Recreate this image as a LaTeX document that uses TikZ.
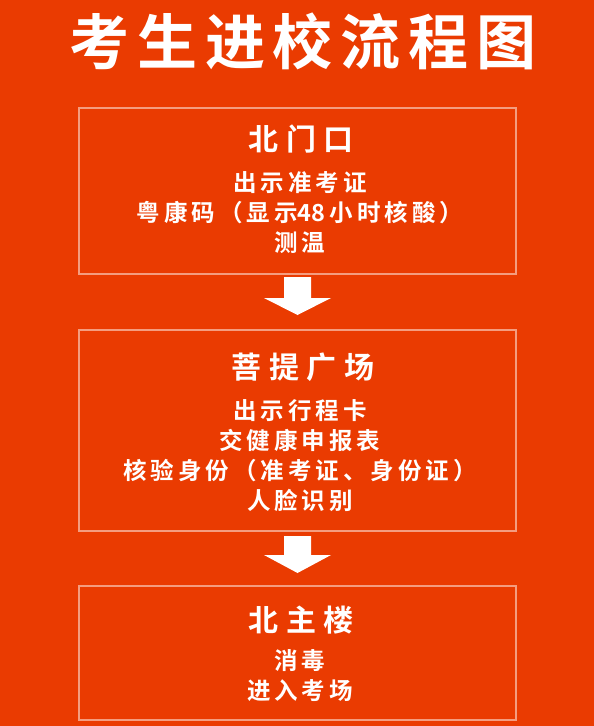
\documentclass[tikz,border=0pt]{standalone}
\usepackage{fontspec}
\newfontfamily\titlefont[LetterSpace=13]{Noto Sans CJK SC Bold}
\newfontfamily\headfont[LetterSpace=25]{Noto Sans CJK SC Bold}
\newfontfamily\bodyfont[LetterSpace=17]{Noto Sans CJK SC Bold}
\newfontfamily\bodyplain{Noto Sans CJK SC Bold}
\definecolor{bg}{RGB}{234,59,1}
\begin{document}
\begin{tikzpicture}[x=1pt,y=-1pt,
  box/.style={draw=white,draw opacity=0.5,line width=1.5pt},
  title/.style={text=white,font=\titlefont\fontsize{60}{64}\selectfont,inner sep=0pt},
  head/.style={text=white,font=\headfont\fontsize{30}{32}\selectfont,inner sep=0pt},
  body/.style={text=white,font=\bodyfont\fontsize{23.5}{30}\selectfont,inner sep=0pt,align=center},
  blockarrow/.style={fill=white}]
\fill[bg] (0,0) rectangle (594,726);
\useasboundingbox (0,0) rectangle (594,726);
\node[title] (t) at (303,41) {考生进校流程图};
% boxes
\draw[box] (79,108) rectangle (516,274);
\node[head] (h1) at (301,139) {北门口};
\node[body,anchor=north] (b1) at (300,171) {出示准考证\\粤康码（显示{\bodyplain 48}\kern4pt 小时核酸）\\测温};
\draw[box] (79,330) rectangle (516,531);
\node[head] (h2) at (303,367) {菩提广场};
\node[body,anchor=north] (b2) at (300,399) {出示行程卡\\交健康申报表\\核验身份（准考证、身份证）\\人脸识别};
\draw[box] (79,586) rectangle (516,720);
\node[head] (h3) at (301,620) {北主楼};
\node[body,anchor=north] (b3) at (300,649) {消毒\\进入考场};
% arrows
\fill[blockarrow] (284,277) -- (311,277) -- (311,298) -- (331,298) -- (297.5,315) -- (264,298) -- (284,298) -- cycle;
\fill[blockarrow] (284,536) -- (311,536) -- (311,555) -- (331,555) -- (297.5,573) -- (264,555) -- (284,555) -- cycle;
\end{tikzpicture}
\end{document}
